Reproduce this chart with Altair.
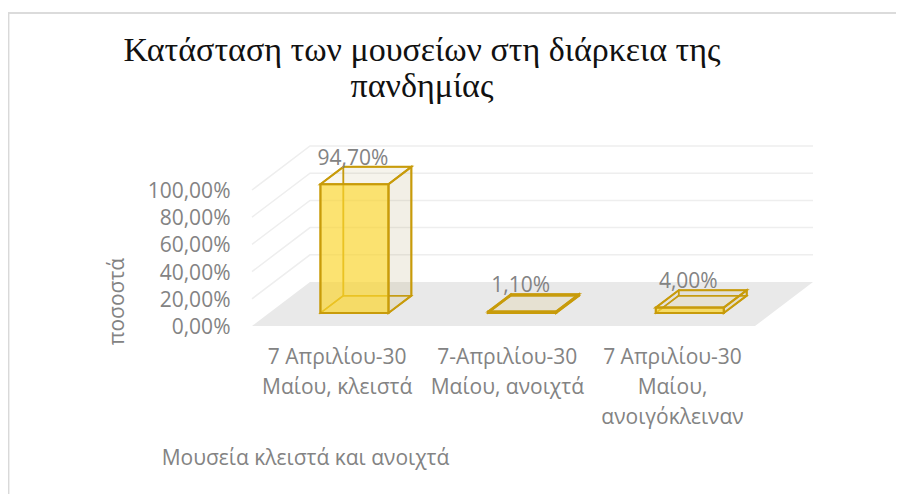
import altair as alt
import pandas as pd

categories = ["7 Απριλίου-30 Μαίου, κλειστά", "7-Απριλίου-30 Μαίου, ανοιχτά", "7 Απριλίου-30 Μαίου, ανοιγόκλειναν"]
values = [94.7, 1.1, 4.0]
value_labels = ["94,70%", "1,10%", "4,00%"]
grid_values = [20, 40, 60, 80, 100]
y_ticks = [0, 20, 40, 60, 80, 100]
x_tick_positions = [0.505, 1.52, 2.505]
title_lines = ["Κατάσταση των μουσείων στη διάρκεια της", "πανδημίας"]

# oblique projection: one unit of depth shifts by KX categories and KY percent
KX = 58 / 167.67
KY = 44 / 1.36
D0, D1 = 0.295, 0.69
BAR_W = 68 / 167.67 / 2
BAR_SHIFT = 0.009

def px(c, d):
    return c + KX * d

def py(v, d):
    return v + KY * d

xs = alt.Scale(domain=[0, 561 / 167.67], range=[0, 561], nice=False, zero=False)
ys = alt.Scale(domain=[0, 181 / 1.36], range=[181, 0], nice=False, zero=False)
GREY = "#838383"
FONT = "Open Sans"
EDGE = "#c89b0a"

y_expr = "replace(format(datum.value, '.2f'), '.', ',') + '%'"
x_expr = ("datum.value < 1 ? ['7 Απριλίου-30', 'Μαίου, κλειστά'] : "
          "datum.value < 2 ? ['7-Απριλίου-30', 'Μαίου, ανοιχτά'] : "
          "['7 Απριλίου-30', 'Μαίου,', 'ανοιγόκλειναν']")
y_axis = alt.Axis(
    values=y_ticks, labelExpr=y_expr, domain=False, ticks=False, grid=False,
    labelPadding=22, labelOffset=1.5, labelFont=FONT, labelFontSize=21, labelColor=GREY,
    title="ποσοστά", titleFont=FONT, titleFontSize=21, titleColor=GREY,
    titleFontWeight="normal", titleX=-125, titleY=156)
x_axis = alt.Axis(
    values=x_tick_positions, labelExpr=x_expr, domain=False, ticks=False, grid=False,
    labelPadding=20, labelFont=FONT, labelFontSize=21, labelColor=GREY,
    labelLineHeight=30, labelAlign="center", labelOverlap=False, labelFlush=False,
    title="Μουσεία κλειστά και ανοιχτά", titleFont=FONT, titleFontSize=21, titleColor=GREY,
    titleFontWeight="normal", titleX=53, titleY=121)

def X(f="x"):
    return alt.X(f"{f}:Q", scale=xs, axis=x_axis)

def Y(f="y"):
    return alt.Y(f"{f}:Q", scale=ys, axis=y_axis)

floor = pd.DataFrame([
    {"y": py(0, 0), "x": px(0, 0), "x2": px(3, 0)},
    {"y": py(0, 1), "x": px(0, 1), "x2": px(3, 1)},
])
floor_layer = alt.Chart(floor).mark_area(orient="horizontal", color="#e9e9e9").encode(
    y=Y(), x=X(), x2="x2:Q")

grid_rows = []
for v in grid_values:
    for i, (c, d) in enumerate([(0, 0), (0, 1), (3, 1)]):
        grid_rows.append({"g": v, "o": i, "x": px(c, d), "y": py(v, d)})
grid_layer = alt.Chart(pd.DataFrame(grid_rows)).mark_line(color="#eeeeee", strokeWidth=1.5).encode(
    x=X(), y=Y(), detail="g:N", order="o:Q")

vert_faces = {"back": [], "left": [], "right": [], "front": []}
horiz_faces = {"bottom": [], "top": []}
for i, v in enumerate(values):
    c0, c1 = i + 0.5 + BAR_SHIFT - BAR_W, i + 0.5 + BAR_SHIFT + BAR_W
    for c in (c0, c1):
        vert_faces["front"].append({"bar": i, "x": px(c, D0), "y": py(0, D0), "y2": py(v, D0)})
        vert_faces["back"].append({"bar": i, "x": px(c, D1), "y": py(0, D1), "y2": py(v, D1)})
    for d in (D0, D1):
        vert_faces["left"].append({"bar": i, "x": px(c0, d), "y": py(0, d), "y2": py(v, d)})
        vert_faces["right"].append({"bar": i, "x": px(c1, d), "y": py(0, d), "y2": py(v, d)})
        horiz_faces["bottom"].append({"bar": i, "y": py(0, d), "x": px(c0, d), "x2": px(c1, d)})
        horiz_faces["top"].append({"bar": i, "y": py(v, d), "x": px(c0, d), "x2": px(c1, d)})

def vface(name, fill, op, sw=1.5):
    return alt.Chart(pd.DataFrame(vert_faces[name])).mark_area(
        fill=fill, fillOpacity=op, stroke=EDGE, strokeWidth=sw).encode(
        x=X(), y=Y(), y2="y2:Q", detail="bar:N")

def hface(name, fill, op, sw=1.5):
    return alt.Chart(pd.DataFrame(horiz_faces[name])).mark_area(
        orient="horizontal", fill=fill, fillOpacity=op, stroke=EDGE, strokeWidth=sw).encode(
        y=Y(), x=X(), x2="x2:Q", detail="bar:N")

label_df = pd.DataFrame({
    "x": [px(i + 0.5, D0) for i in range(3)],
    "y": [py(v, (D0 + D1) / 2) for v in values],
    "t": value_labels,
})
labels = alt.Chart(label_df).mark_text(
    font=FONT, fontSize=21, color=GREY, dy=-17).encode(x=X(), y=Y(), text="t:N")

# chart title, as two centred lines above the plot
title_df = pd.DataFrame({"t": title_lines, "cx": [170, 170], "cy": [-84, -48]})
title_layer = alt.Chart(title_df).mark_text(
    font="Liberation Serif", fontSize=34, color="#111111", align="center", baseline="alphabetic").encode(
    x=alt.X("cx:Q", scale=None), y=alt.Y("cy:Q", scale=None), text="t:N")

# slide frame: light grey line along the top and the left of the picture
frame_top = alt.Chart(floor).mark_rule(color="#d9d9d9", strokeWidth=1.5).encode(
    x=alt.value(-244), x2=alt.value(652), y=alt.value(-132))
frame_left = alt.Chart(floor).mark_rule(color="#d9d9d9", strokeWidth=1.5).encode(
    x=alt.value(-243.5), y=alt.value(-132), y2=alt.value(349))

chart = alt.layer(
    floor_layer, grid_layer,
    vface("back", "#b8a468", 0.05, 1.5),
    vface("left", "#b8a468", 0.02, 1.5),
    hface("bottom", "#ffd23c", 0.08, 1.5),
    vface("right", "#b8a468", 0.12, 2),
    hface("top", "#b8a468", 0.07, 2),
    vface("front", "#fbd52f", 0.68, 2.2),
    labels, title_layer, frame_top, frame_left,
).properties(
    width=561, height=181,
    padding={"left": 244, "top": 137, "right": 83, "bottom": 168},
    autosize=alt.AutoSizeParams(type="none"),
).configure_view(stroke=None)

chart.save("out.html", embed_options={"renderer": "svg", "actions": False})
